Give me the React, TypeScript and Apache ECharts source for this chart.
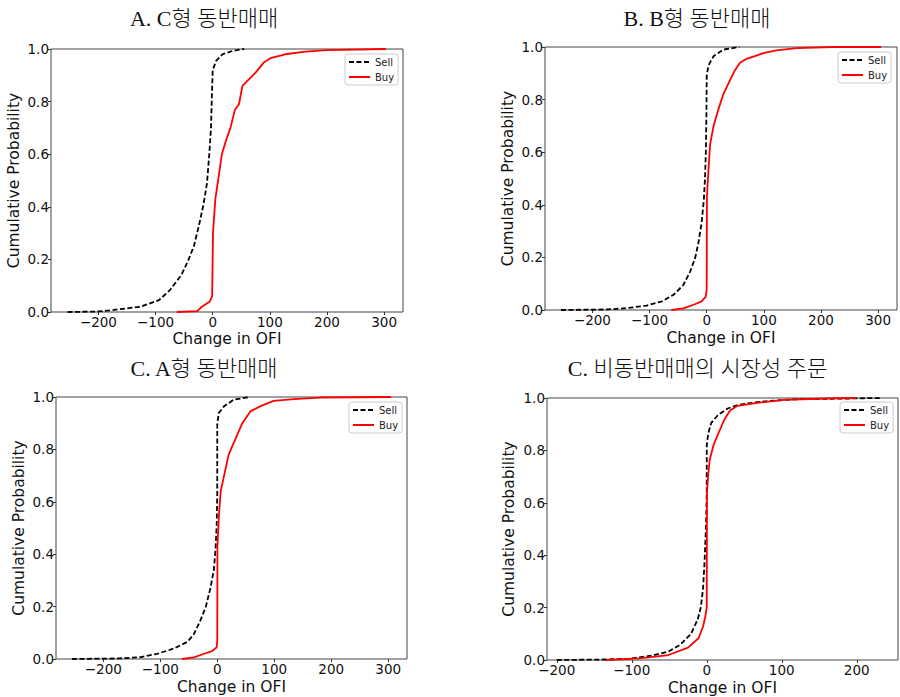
import React, { useEffect, useRef } from "react";
import * as echarts from "echarts";

// ---- data ----
const panelTitles = ["A. C형 동반매매", "B. B형 동반매매", "C. A형 동반매매", "C. 비동반매매의 시장성 주문"];
const seriesNames = ["Sell", "Buy"];
const xAxisTitle = "Change in OFI";
const yAxisTitle = "Cumulative Probability";

const sellA = [[-254,0],[-200,0.002],[-173,0.008],[-127,0.02],[-94,0.045],[-75,0.083],[-55,0.14],[-44,0.19],[-33,0.25],[-24,0.33],[-16,0.41],[-10,0.49],[-6,0.6],[-3,0.7],[-1.5,0.82],[0,0.92],[6,0.955],[17,0.98],[35,0.993],[55,1]];
const buyA = [[-63,0],[-27,0.003],[-19,0.02],[-5,0.04],[-1,0.06],[0,0.06],[0.5,0.3],[4.6,0.43],[8.7,0.49],[16,0.6],[23,0.65],[31,0.7],[39,0.77],[46,0.79],[52,0.86],[61,0.88],[75,0.91],[90,0.95],[101,0.965],[127,0.98],[162,0.99],[200,0.996],[303,1]];

const sellB = [[-255,0],[-174,0.002],[-140,0.007],[-105,0.017],[-78,0.033],[-58,0.058],[-41,0.095],[-29,0.146],[-20,0.2],[-15,0.25],[-9,0.33],[-5,0.42],[-3,0.5],[-1.5,0.6],[-0.5,0.75],[0,0.89],[3,0.93],[12,0.965],[29,0.99],[57,1]];
const buyB = [[-62,0],[-41,0.006],[-23,0.02],[-9,0.033],[-2,0.05],[0,0.076],[0.3,0.43],[3,0.53],[6,0.63],[12,0.7],[20,0.76],[29,0.82],[41,0.875],[49,0.91],[58,0.94],[70,0.955],[84,0.965],[99,0.977],[122,0.987],[157,0.996],[221,1],[305,1]];

const sellC = [[-255,0],[-174,0.002],[-134,0.007],[-105,0.02],[-76,0.04],[-52,0.066],[-41,0.095],[-29,0.15],[-20,0.2],[-12,0.27],[-6,0.34],[-3,0.42],[-1,0.51],[0,0.63],[0,0.9],[3,0.94],[12,0.965],[29,0.99],[57,1]];
const buyC = [[-62,0],[-41,0.006],[-23,0.02],[-9,0.03],[-1,0.045],[0,0.07],[0.3,0.43],[3,0.55],[6,0.64],[12,0.7],[20,0.78],[32,0.84],[44,0.9],[58,0.945],[76,0.965],[99,0.985],[134,0.992],[180,0.998],[305,1]];

const sellD = [[-200,0],[-134,0.002],[-104,0.005],[-73,0.017],[-51,0.032],[-36,0.057],[-21,0.1],[-12,0.155],[-8,0.2],[-5,0.27],[-3,0.37],[-1,0.51],[0,0.64],[0,0.82],[2,0.865],[6,0.905],[15,0.935],[28,0.96],[42,0.974],[72,0.986],[116,0.995],[234,1]];
const buyD = [[-134,0],[-90,0.006],[-51,0.019],[-25,0.047],[-11,0.083],[-5,0.127],[-2,0.165],[0,0.2],[0.3,0.64],[2,0.71],[4,0.765],[9,0.82],[17,0.875],[23,0.915],[31,0.952],[41,0.97],[72,0.983],[103,0.993],[160,0.998],[199,1]];

const sellData = [sellA, sellB, sellC, sellD];
const buyData = [buyA, buyB, buyC, buyD];
const xRanges = [[-283, 333], [-283, 333], [-283, 333], [-213, 255]];

// ---- layout ----
const grids = [
  { left: 51, top: 49, width: 352, height: 263 },
  { left: 545, top: 47, width: 352, height: 263 },
  { left: 56, top: 397, width: 351, height: 262 },
  { left: 547, top: 398, width: 351, height: 262 },
];
const titlePos = [[204, 18.5], [697, 18.5], [204, 368], [697.5, 368]];
const yNamePos = [[14, 180.5], [507.5, 178.5], [18.5, 528], [509, 529]];
const xNameY = [339, 338, 687, 688];
const legendPos = [[345, 54], [838, 52], [349, 402], [840, 402]];

const labelFont = "'DejaVu Sans', sans-serif";

export default function App() {
  const ref = useRef<HTMLDivElement>(null);
  useEffect(() => {
    document.body.style.margin = "0";
    const chart = echarts.init(ref.current!, null, { renderer: "svg" });
    const xAxes: any[] = [];
    const yAxes: any[] = [];
    const series: any[] = [];
    const legends: any[] = [];
    const graphics: any[] = [];
    grids.forEach((g, i) => {
      xAxes.push({
        type: "value",
        gridIndex: i,
        min: xRanges[i][0],
        max: xRanges[i][1],
        splitNumber: 5,
        axisLine: { show: false, onZero: false },
        splitLine: { show: false },
        axisTick: { show: true, length: 3, lineStyle: { color: "#333" } },
        axisLabel: {
          margin: 3,
          fontFamily: labelFont,
          fontSize: 13.5,
          color: "#111",
          showMinLabel: false,
          showMaxLabel: false,
          formatter: (v: number) =>
            Math.abs(v % 100) < 1e-6 ? String(Math.round(v)).replace("-", "\u2212") : "",
        },
      });
      yAxes.push({
        type: "value",
        gridIndex: i,
        min: 0,
        max: 1,
        interval: 0.2,
        axisLine: { show: false, onZero: false },
        splitLine: { show: false },
        axisTick: { show: true, length: 3, lineStyle: { color: "#333" } },
        axisLabel: {
          margin: 2,
          fontFamily: labelFont,
          fontSize: 13.5,
          color: "#111",
          formatter: (v: number) => v.toFixed(1),
        },
      });
      series.push({
        name: seriesNames[0],
        type: "line",
        xAxisIndex: i,
        yAxisIndex: i,
        data: sellData[i],
        showSymbol: false,
        symbol: "none",
        lineStyle: { color: "#000", width: 1.8, type: [5, 2.5] },
        itemStyle: { color: "#000" },
      });
      series.push({
        name: seriesNames[1],
        type: "line",
        xAxisIndex: i,
        yAxisIndex: i,
        data: buyData[i],
        showSymbol: false,
        symbol: "none",
        lineStyle: { color: "#ff0000", width: 1.8 },
        itemStyle: { color: "#ff0000" },
      });
      legends.push({
        data: seriesNames,
        orient: "vertical",
        left: legendPos[i][0],
        top: legendPos[i][1],
        itemWidth: 21,
        itemHeight: 10,
        itemGap: 5,
        padding: [3, 4, 3, 3],
        borderColor: "#cccccc",
        borderWidth: 1,
        borderRadius: 3,
        backgroundColor: "rgba(255,255,255,0.8)",
        selectedMode: false,
        itemStyle: { opacity: 0, color: "transparent", borderWidth: 0 },
        textStyle: { fontFamily: labelFont, fontSize: 10, color: "#222" },
      });
      graphics.push({
        type: "text",
        x: titlePos[i][0],
        y: titlePos[i][1],
        style: {
          text: panelTitles[i],
          font: "300 22px 'Liberation Serif', 'Noto Sans CJK KR', serif",
          fill: "#111",
          textAlign: "center",
          textVerticalAlign: "middle",
        },
      });
      graphics.push({
        type: "text",
        x: yNamePos[i][0],
        y: yNamePos[i][1],
        rotation: Math.PI / 2,
        style: {
          text: yAxisTitle,
          font: "15.5px 'DejaVu Sans', sans-serif",
          fill: "#111",
          textAlign: "center",
          textVerticalAlign: "middle",
        },
      });
      graphics.push({
        type: "text",
        x: g.left + g.width / 2,
        y: xNameY[i],
        style: {
          text: xAxisTitle,
          font: "15.5px 'DejaVu Sans', sans-serif",
          fill: "#111",
          textAlign: "center",
          textVerticalAlign: "middle",
        },
      });
    });
    chart.setOption({
      animation: false,
      backgroundColor: "#ffffff",
      grid: grids.map((g) => ({
        ...g,
        show: true,
        borderColor: "#444",
        borderWidth: 1,
        backgroundColor: "transparent",
      })),
      xAxis: xAxes,
      yAxis: yAxes,
      legend: legends,
      series,
      graphic: graphics,
    });
    return () => chart.dispose();
  }, []);
  return <div ref={ref} style={{ width: 900, height: 697 }} />;
}
